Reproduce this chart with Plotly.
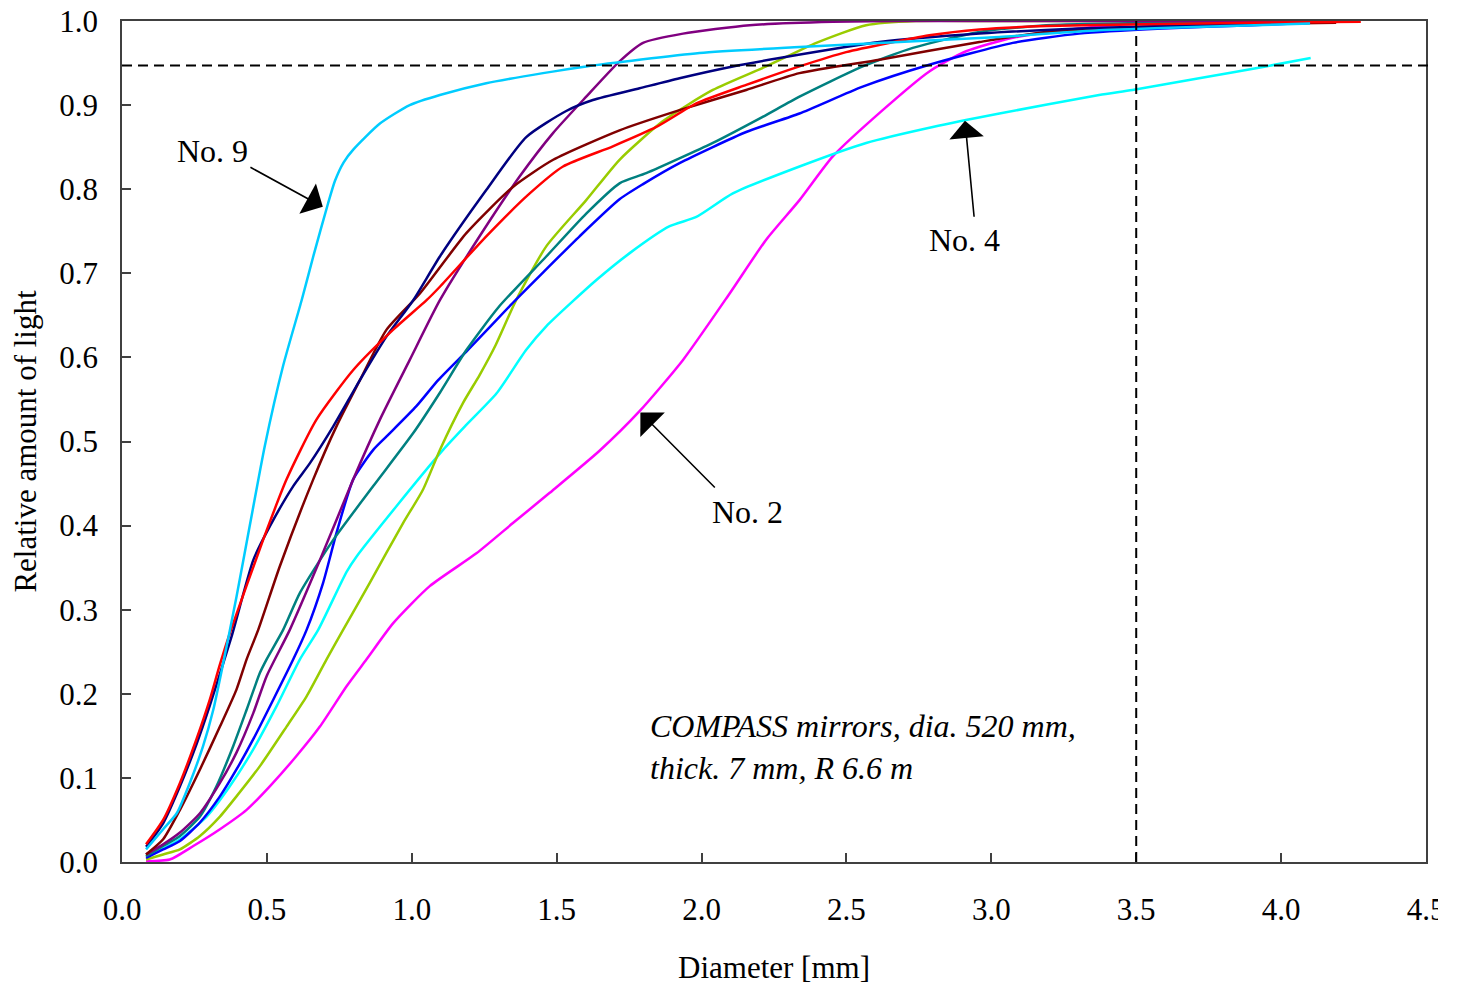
import plotly.graph_objects as go

# ---- data ----
no9_x = [0.083, 0.142, 0.189, 0.234, 0.28, 0.315, 0.349, 0.395, 0.441, 0.493, 0.556, 0.62, 0.66, 0.711, 0.735, 0.765, 0.798, 0.89, 0.993, 1.097, 1.257, 1.453, 1.602, 1.993, 2.338, 2.683, 3.028, 3.372, 3.7, 4.1]
no9_y = [0.015, 0.039, 0.058, 0.094, 0.138, 0.181, 0.236, 0.315, 0.40, 0.495, 0.59, 0.668, 0.72, 0.783, 0.81, 0.832, 0.847, 0.878, 0.900, 0.912, 0.926, 0.938, 0.946, 0.962, 0.969, 0.975, 0.981, 0.989, 0.993, 0.997]

red_x = [0.083, 0.142, 0.2, 0.257, 0.303, 0.338, 0.378, 0.487, 0.568, 0.671, 0.798, 0.936, 1.051, 1.097, 1.257, 1.407, 1.522, 1.694, 1.844, 1.982, 2.154, 2.338, 2.499, 2.786, 2.959, 3.19, 3.53, 3.9, 4.275]
red_y = [0.021, 0.05, 0.094, 0.146, 0.193, 0.235, 0.278, 0.383, 0.455, 0.526, 0.585, 0.633, 0.668, 0.684, 0.744, 0.795, 0.827, 0.851, 0.874, 0.902, 0.924, 0.946, 0.963, 0.983, 0.990, 0.994, 0.996, 0.998, 0.999]

navy_x = [0.083, 0.142, 0.2, 0.257, 0.303, 0.378, 0.453, 0.51, 0.591, 0.648, 0.729, 0.821, 0.913, 1.005, 1.097, 1.257, 1.395, 1.533, 1.625, 1.786, 1.924, 2.108, 2.269, 2.614, 2.959, 3.303, 3.7, 4.1]
navy_y = [0.018, 0.046, 0.09, 0.14, 0.186, 0.268, 0.359, 0.399, 0.447, 0.474, 0.518, 0.573, 0.625, 0.668, 0.72, 0.799, 0.862, 0.893, 0.906, 0.92, 0.932, 0.946, 0.956, 0.975, 0.985, 0.991, 0.995, 0.998]

maroon_x = [0.083, 0.142, 0.2, 0.269, 0.338, 0.395, 0.43, 0.47, 0.545, 0.66, 0.74, 0.821, 0.913, 1.028, 1.189, 1.35, 1.488, 1.717, 1.924, 2.154, 2.338, 2.614, 2.959, 3.19, 3.6, 4.19]
maroon_y = [0.009, 0.027, 0.062, 0.11, 0.161, 0.205, 0.241, 0.276, 0.352, 0.455, 0.518, 0.573, 0.633, 0.676, 0.748, 0.803, 0.835, 0.87, 0.894, 0.918, 0.938, 0.954, 0.975, 0.987, 0.994, 0.998]

purple_x = [0.083, 0.142, 0.2, 0.269, 0.338, 0.395, 0.453, 0.499, 0.579, 0.683, 0.798, 0.89, 0.993, 1.097, 1.234, 1.372, 1.488, 1.602, 1.717, 1.798, 1.936, 2.166, 2.453, 2.7, 3.2, 4.1]
purple_y = [0.009, 0.021, 0.035, 0.058, 0.094, 0.13, 0.177, 0.221, 0.276, 0.359, 0.455, 0.526, 0.597, 0.668, 0.744, 0.815, 0.867, 0.91, 0.952, 0.974, 0.985, 0.995, 0.999, 1.0, 1.0, 1.0]

teal_x = [0.083, 0.142, 0.2, 0.269, 0.326, 0.384, 0.43, 0.476, 0.499, 0.556, 0.614, 0.729, 0.867, 1.005, 1.097, 1.189, 1.3, 1.464, 1.602, 1.717, 1.809, 2.039, 2.211, 2.338, 2.556, 2.729, 2.959, 3.19, 3.6, 4.1]
teal_y = [0.007, 0.019, 0.031, 0.054, 0.09, 0.138, 0.181, 0.225, 0.241, 0.276, 0.32, 0.383, 0.447, 0.51, 0.558, 0.609, 0.66, 0.72, 0.771, 0.807, 0.819, 0.855, 0.886, 0.91, 0.946, 0.968, 0.987, 0.995, 0.998, 0.999]

blue_x = [0.083, 0.142, 0.2, 0.269, 0.338, 0.395, 0.453, 0.522, 0.591, 0.637, 0.694, 0.74, 0.798, 0.867, 0.913, 1.016, 1.091, 1.194, 1.349, 1.45, 1.579, 1.717, 1.798, 1.924, 2.154, 2.338, 2.556, 2.786, 3.074, 3.303, 3.59, 3.9, 4.1]
blue_y = [0.005, 0.015, 0.025, 0.047, 0.078, 0.11, 0.146, 0.193, 0.241, 0.276, 0.332, 0.391, 0.455, 0.49, 0.506, 0.542, 0.573, 0.609, 0.665, 0.70, 0.744, 0.788, 0.806, 0.831, 0.868, 0.89, 0.922, 0.948, 0.974, 0.985, 0.991, 0.995, 0.998]

ygreen_x = [0.083, 0.142, 0.2, 0.269, 0.338, 0.395, 0.476, 0.568, 0.637, 0.706, 0.763, 0.855, 0.97, 1.039, 1.097, 1.177, 1.234, 1.29, 1.36, 1.464, 1.602, 1.717, 1.867, 2.039, 2.223, 2.396, 2.568, 2.74, 3.0, 3.5, 4.1]
ygreen_y = [0.003, 0.009, 0.015, 0.031, 0.054, 0.078, 0.114, 0.161, 0.197, 0.241, 0.276, 0.332, 0.403, 0.443, 0.49, 0.546, 0.579, 0.615, 0.668, 0.732, 0.787, 0.835, 0.881, 0.918, 0.946, 0.974, 0.995, 1.0, 1.0, 1.0, 1.0]

no4_x = [0.083, 0.142, 0.2, 0.292, 0.372, 0.453, 0.533, 0.614, 0.677, 0.775, 0.809, 0.947, 1.108, 1.189, 1.292, 1.395, 1.464, 1.637, 1.752, 1.89, 1.982, 2.108, 2.338, 2.568, 2.798, 3.028, 3.372, 3.487, 3.717, 3.947, 4.102]
no4_y = [0.007, 0.016, 0.027, 0.054, 0.09, 0.134, 0.185, 0.241, 0.276, 0.345, 0.363, 0.423, 0.49, 0.52, 0.557, 0.609, 0.637, 0.692, 0.724, 0.756, 0.767, 0.795, 0.827, 0.855, 0.874, 0.89, 0.912, 0.918, 0.932, 0.946, 0.956]

no2_x = [0.083, 0.165, 0.246, 0.338, 0.43, 0.51, 0.602, 0.683, 0.775, 0.844, 0.936, 1.062, 1.223, 1.349, 1.476, 1.648, 1.786, 1.936, 2.097, 2.223, 2.338, 2.453, 2.625, 2.786, 2.913, 3.074, 3.303, 3.59, 4.1]
no2_y = [0.001, 0.003, 0.019, 0.039, 0.062, 0.09, 0.126, 0.161, 0.209, 0.241, 0.284, 0.328, 0.367, 0.403, 0.439, 0.489, 0.536, 0.597, 0.676, 0.74, 0.787, 0.839, 0.894, 0.94, 0.964, 0.98, 0.991, 0.999, 1.0]

series = [
    ("No. 2", no2_x, no2_y, "#FF00FF"),
    ("No. 4", no4_x, no4_y, "#00FFFF"),
    ("yellow-green", ygreen_x, ygreen_y, "#99CC00"),
    ("blue", blue_x, blue_y, "#0000FF"),
    ("teal", teal_x, teal_y, "#008080"),
    ("purple", purple_x, purple_y, "#800080"),
    ("maroon", maroon_x, maroon_y, "#800000"),
    ("navy", navy_x, navy_y, "#000080"),
    ("red", red_x, red_y, "#FF0000"),
    ("No. 9", no9_x, no9_y, "#00CCFF"),
]

x_ticks = [0.0, 0.5, 1.0, 1.5, 2.0, 2.5, 3.0, 3.5, 4.0, 4.5]
y_ticks = [0.0, 0.1, 0.2, 0.3, 0.4, 0.5, 0.6, 0.7, 0.8, 0.9, 1.0]
threshold_y = 0.947
threshold_x = 3.5

FONT = "Liberation Serif"

fig = go.Figure()
for name, xs, ys, col in series:
    fig.add_trace(go.Scatter(x=xs, y=ys, mode="lines", name=name,
                             line=dict(color=col, width=2.5, shape="spline", smoothing=0.6),
                             hoverinfo="skip", showlegend=False))

axis_common = dict(showgrid=False, zeroline=False, showline=True, mirror=True,
                   linecolor="#404040", linewidth=1.5, ticks="inside", ticklen=9,
                   tickwidth=1.5, tickcolor="#404040", ticklabeloverflow="allow",
                   tickfont=dict(family=FONT, size=31, color="black"))

fig.update_xaxes(range=[0, 4.5], tickvals=x_ticks, tickformat=".1f",
                 title=dict(text="Diameter [mm]", font=dict(family=FONT, size=31, color="black"), standoff=30),
                 ticklabelstandoff=19, **axis_common)
fig.update_yaxes(range=[0, 1.0], tickvals=y_ticks, tickformat=".1f",
                 title=dict(text="Relative amount of light", font=dict(family=FONT, size=31, color="black"), standoff=17),
                 ticklabelstandoff=16, **axis_common)

# dashed reference lines
fig.add_shape(type="line", xref="paper", yref="y", x0=0, x1=1.0053, y0=threshold_y, y1=threshold_y,
              line=dict(color="black", width=2, dash="10px,6px"), layer="above")
fig.add_shape(type="line", xref="x", yref="y", x0=threshold_x, x1=threshold_x, y0=0, y1=1.0,
              line=dict(color="black", width=2, dash="10px,6px"), layer="above")

# arrows
arrows = [
    (0.693, 0.779, 0.438, 0.827),
    (2.909, 0.8815, 2.941, 0.7655),
    (1.789, 0.5345, 2.051, 0.4435),
]
for hx, hy, tx, ty in arrows:
    fig.add_annotation(x=hx, y=hy, ax=tx, ay=ty, xref="x", yref="y", axref="x", ayref="y",
                       text="", showarrow=True, arrowhead=1, arrowsize=3.6, arrowwidth=1.6,
                       arrowcolor="black", standoff=0)

labels = [("No. 9", 0.314, 0.845), ("No. 4", 2.907, 0.740), ("No. 2", 2.159, 0.4165)]
for txt, lx, ly in labels:
    fig.add_annotation(x=lx, y=ly, xref="x", yref="y", text=txt, showarrow=False,
                       font=dict(family=FONT, size=32, color="black"))

fig.add_annotation(x=1.814, y=0.1367, xref="x", yref="y", xanchor="left", yanchor="middle",
                   align="left", showarrow=False,
                   text="<i>COMPASS mirrors, dia. 520 mm,<br>thick. 7 mm, R 6.6 m</i>",
                   font=dict(family=FONT, size=32, color="black"))

# the reference image is cropped at its right edge, through the last tick label
fig.add_shape(type="rect", xref="paper", yref="paper", x0=1.0092, x1=1.04, y0=-0.1, y1=-0.02,
              fillcolor="white", line=dict(width=0), layer="above")

# the page body adds an 8px offset, so the figure is 8px smaller and margins shifted
fig.update_layout(width=1450, height=979, plot_bgcolor="white", paper_bgcolor="white",
                  margin=dict(l=114, r=32, t=13, b=125, autoexpand=False))

fig.write_html("out.html")
